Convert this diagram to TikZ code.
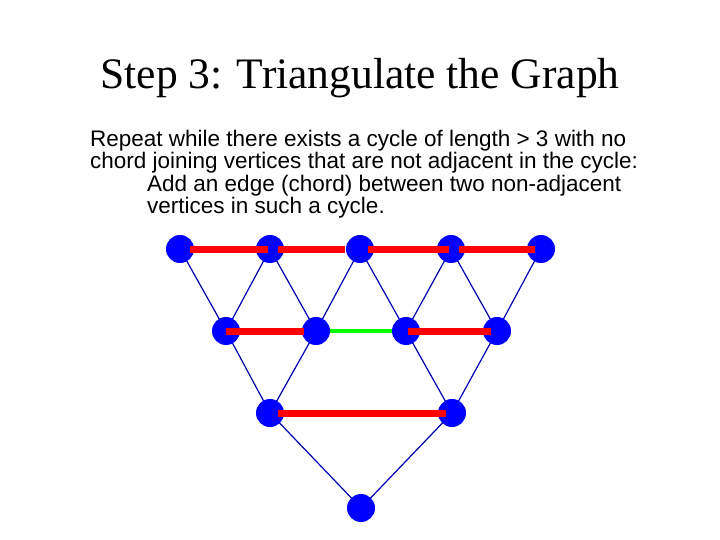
\documentclass[tikz,border=0pt]{standalone}
\usepackage{fontspec}
\setmainfont{Liberation Serif}
\newfontfamily\arial{Liberation Sans}
\begin{document}
\begin{tikzpicture}[x=1pt,y=-1pt,
  vert/.style={circle,fill=blue,minimum size=28pt,inner sep=0pt},
  thin/.style={draw=blue!70!black,line width=1.2pt},
  redline/.style={draw=red,line width=7pt},
  greenline/.style={draw=green,line width=3.5pt},
  txt/.style={font=\arial\fontsize{22.5}{25}\selectfont,anchor=west,inner sep=0pt}]
\useasboundingbox (0,0) rectangle (720,540);
\node[font=\fontsize{43.5}{48}\selectfont] (title) at (360,78) {Step 3: Triangulate the Graph};
\node[txt] (l1) at (90,141) {Repeat while there exists a cycle of length > 3 with no};
\node[txt] (l2) at (90,163) {chord joining vertices that are not adjacent in the cycle:};
\node[txt] (l3) at (147,186) {Add an edge (chord) between two non-adjacent};
\node[txt] (l4) at (147,208) {vertices in such a cycle.};
\coordinate (a1) at (180,249); \coordinate (a2) at (270,249); \coordinate (a3) at (360,249);
\coordinate (a4) at (451,249); \coordinate (a5) at (541,249);
\coordinate (b1) at (226,331); \coordinate (b2) at (316,331); \coordinate (b3) at (406,331); \coordinate (b4) at (497,331);
\coordinate (c1) at (270,413); \coordinate (c2) at (452,413);
\coordinate (d1) at (361,508);
\foreach \u/\v in {a1/b1,a2/b1,a2/b2,a3/b2,a3/b3,a4/b3,a4/b4,a5/b4,b1/c1,b2/c1,b3/c2,b4/c2,c1/d1,c2/d1}
  \draw[thin] (\u) -- (\v);
\draw[greenline] (b2) -- (b3);
\foreach \n in {a1,a2,a3,a4,a5,b1,b2,b3,b4,c1,c2,d1} \node[vert] (n\n) at (\n) {};
\draw[redline] ([xshift=10pt]na1.center) -- ([xshift=-2pt]na2.center);
\draw[redline] ([xshift=8pt]na2.center) -- ([xshift=-15pt]na3.center);
\draw[redline] ([xshift=8pt]na3.center) -- ([xshift=-2pt]na4.center);
\draw[redline] ([xshift=8pt]na4.center) -- ([xshift=-6pt]na5.center);
\draw[redline] ([xshift=0pt]nb1.center) -- ([xshift=-12pt]nb2.center);
\draw[redline] ([xshift=2pt]nb3.center) -- ([xshift=-6pt]nb4.center);
\draw[redline] ([xshift=8pt]nc1.center) -- ([xshift=-6pt]nc2.center);
\end{tikzpicture}
\end{document}
